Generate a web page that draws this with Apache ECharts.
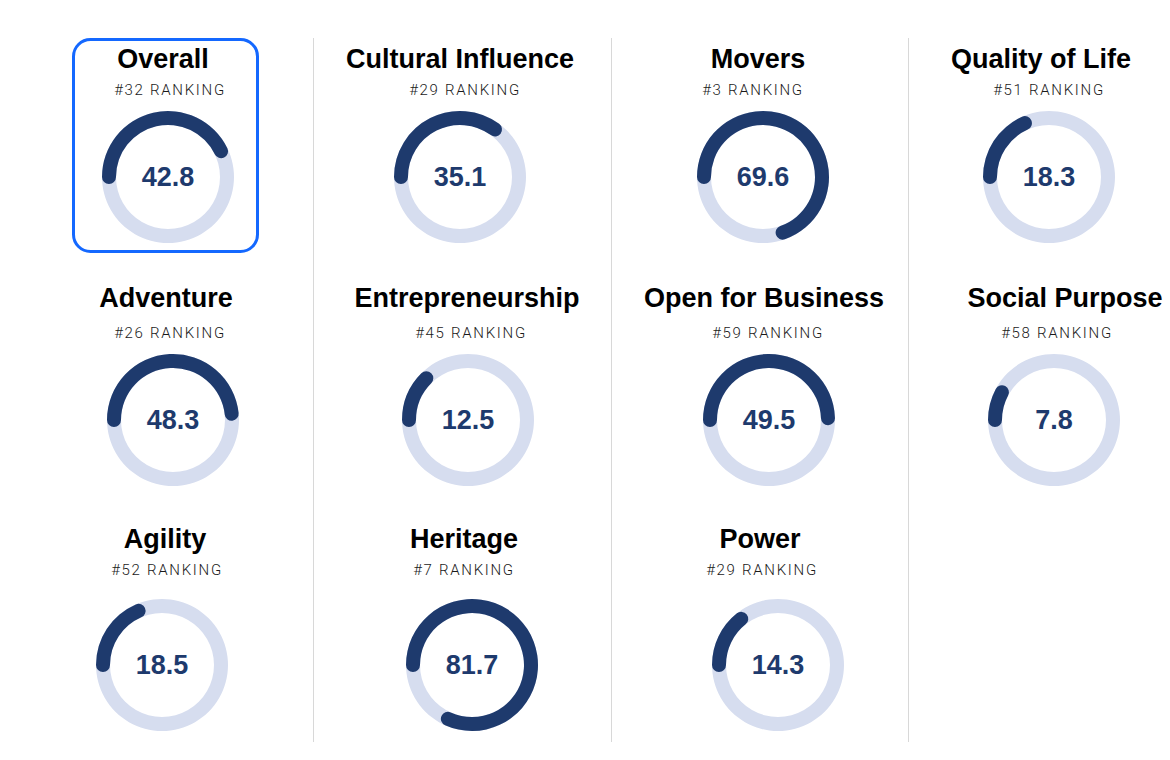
<!DOCTYPE html>
<html>
<head>
<meta charset="utf-8">
<script src="https://cdn.jsdelivr.net/npm/echarts@6/dist/echarts.min.js"></script>
<style>
  html, body { margin: 0; padding: 0; background: #fff; }
  #chart { width: 1170px; height: 760px; }
  /* ranking labels are the only Roboto texts: spread their letters */
  #chart text[style*="Roboto"] { letter-spacing: 1.7px; }
</style>
</head>
<body>
<div id="chart"></div>
<script>
// pillar names, ranks and scores, read left to right, row by row
var names = ['Overall', 'Cultural Influence', 'Movers', 'Quality of Life',
             'Adventure', 'Entrepreneurship', 'Open for Business', 'Social Purpose',
             'Agility', 'Heritage', 'Power'];
var ranks = [32, 29, 3, 51, 26, 45, 59, 58, 52, 7, 29];
var scores = [42.8, 35.1, 69.6, 18.3, 48.3, 12.5, 49.5, 7.8, 18.5, 81.7, 14.3];

// layout (pixels) - each cell is centred a little differently
var ringX  = [168, 460, 763, 1049, 173, 468, 769, 1054, 162, 472, 778];
var titleX = [163, 460, 758, 1041, 166, 467, 764, 1065, 165, 464, 760];
var rankX  = [170, 465, 753, 1049, 170, 471, 768, 1057, 167, 464, 762];
var rowTitleY = [58, 297, 538];
var rowRankY  = [90, 333, 570];
var rowRingY  = [177, 420, 665];

var navy = '#1e3a6d';
var track = '#d6ddef';

var myChart = echarts.init(document.getElementById('chart'), null, { renderer: 'svg' });

var series = [];
var graphics = [];

for (var i = 0; i < names.length; i++) {
    var row = i < 4 ? 0 : (i < 8 ? 1 : 2);
    series.push({
        type: 'gauge',
        center: [ringX[i], rowRingY[row]],
        radius: 66,
        startAngle: 180,
        endAngle: -180,
        min: 0,
        max: 100,
        progress: {
            show: true,
            width: 14,
            roundCap: true,
            itemStyle: { color: navy }
        },
        axisLine: {
            lineStyle: { width: 14, color: [[1, track]] }
        },
        pointer: { show: false },
        anchor: { show: false },
        axisTick: { show: false },
        splitLine: { show: false },
        axisLabel: { show: false },
        title: { show: false },
        detail: {
            offsetCenter: [0, 0],
            valueAnimation: false,
            fontSize: 27,
            fontWeight: 'bold',
            fontFamily: 'Liberation Sans, Arial, sans-serif',
            color: navy,
            formatter: function (v) { return v.toFixed(1); }
        },
        animation: false,
        data: [{ value: scores[i], name: names[i] }]
    });
    // pillar title
    graphics.push({
        type: 'text',
        x: titleX[i],
        y: rowTitleY[row] + 1,
        style: {
            text: names[i],
            align: 'center',
            verticalAlign: 'middle',
            font: 'bold 27px "Liberation Sans", Arial, sans-serif',
            fill: '#000'
        }
    });
    // ranking line
    graphics.push({
        type: 'text',
        x: rankX[i],
        y: rowRankY[row],
        style: {
            text: '#' + ranks[i] + ' RANKING',
            align: 'center',
            verticalAlign: 'middle',
            font: '300 15px Roboto',
            fill: '#1a1a1a'
        }
    });
}

// column separators
var sepX = [313.5, 611.5, 908.5];
for (var j = 0; j < sepX.length; j++) {
    graphics.push({
        type: 'line',
        shape: { x1: sepX[j], y1: 38, x2: sepX[j], y2: 742 },
        style: { stroke: '#d8d8d8', lineWidth: 1 }
    });
}

// highlight box round "Overall"
graphics.push({
    type: 'rect',
    shape: { x: 73.5, y: 39.5, width: 184, height: 212, r: 17 },
    style: { fill: 'none', stroke: '#1468ff', lineWidth: 3 }
});

var option = {
    backgroundColor: '#fff',
    animation: false,
    series: series,
    graphic: graphics
};

myChart.setOption(option);
</script>
</body>
</html>
